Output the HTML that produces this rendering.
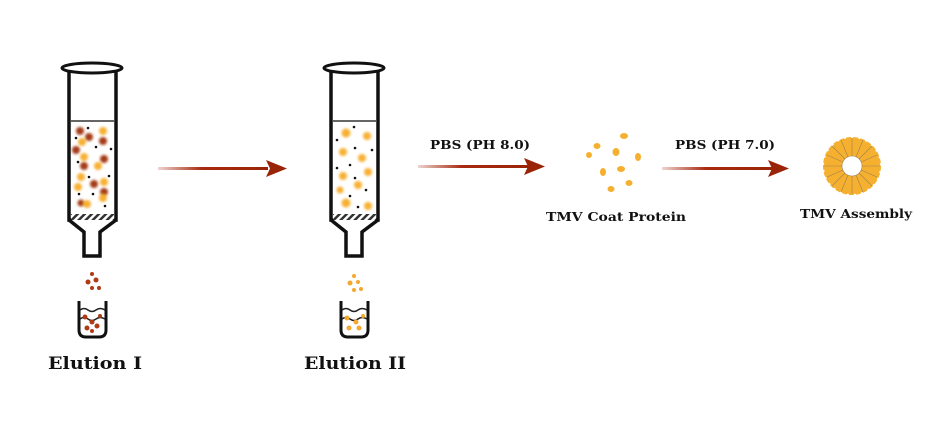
<!DOCTYPE html>
<html><head><style>
body{margin:0;background:#fff}
svg text{font-family:"DejaVu Serif","Liberation Serif",serif;font-weight:bold;fill:#111}
</style></head><body>
<svg width="951" height="435" viewBox="0 0 951 435" xmlns="http://www.w3.org/2000/svg">
<defs>
<linearGradient id="ag" x1="0" x2="1"><stop offset="0" stop-color="#a82a10" stop-opacity="0.2"/><stop offset="0.4" stop-color="#a82a10"/><stop offset="1" stop-color="#9a2408"/></linearGradient>
<pattern id="hat" width="5" height="5" patternUnits="userSpaceOnUse" patternTransform="rotate(45)"><rect width="5" height="5" fill="#fff"/><rect width="2.5" height="5" fill="#333"/></pattern>
<filter id="bl"><feGaussianBlur stdDeviation="1.2"/></filter>
<g id="tube">
<rect x="69" y="70" width="47" height="150" fill="#fff" stroke="#111" stroke-width="3.5"/>
<line x1="71" y1="121" x2="114" y2="121" stroke="#333" stroke-width="1.5"/>
<rect x="71" y="214" width="43" height="6" fill="url(#hat)"/>
<path d="M69 220 L84 232 L84 256 L100 256 L100 232 L116 220" fill="#fff" stroke="#111" stroke-width="3.5"/>
<ellipse cx="92" cy="68" rx="30" ry="5" fill="#fff" stroke="#111" stroke-width="3"/>
<path d="M79 301 L79 330 Q79 337 86 337 L99 337 Q106 337 106 330 L106 301" fill="#fff" stroke="#111" stroke-width="3"/>
<path d="M80 310 q4 -3 8 0 q4 3 8 0 q4 -3 9 0 M80 319 q4 -3 8 0 q4 3 8 0 q4 -3 9 0" fill="none" stroke="#222" stroke-width="1.5"/>
</g>
</defs>
<use href="#tube"/>
<use href="#tube" x="262"/>
<g filter="url(#bl)">
<g fill="#a53a14"><circle cx="80" cy="131" r="4"/><circle cx="89" cy="137" r="4"/><circle cx="103" cy="141" r="4"/><circle cx="76" cy="150" r="4"/><circle cx="104" cy="159" r="4"/><circle cx="84" cy="166" r="4"/><circle cx="94" cy="184" r="4"/><circle cx="104" cy="192" r="4"/><circle cx="81" cy="203" r="3.5"/></g>
<g fill="#f8b030"><circle cx="103" cy="131" r="4"/><circle cx="82" cy="142" r="4"/><circle cx="84" cy="157" r="4"/><circle cx="98" cy="166" r="4"/><circle cx="81" cy="177" r="4"/><circle cx="78" cy="187" r="4"/><circle cx="104" cy="182" r="4"/><circle cx="103" cy="198" r="4"/><circle cx="87" cy="204" r="4"/></g>
<g fill="#f8b030"><circle cx="346" cy="133" r="4.5"/><circle cx="367" cy="136" r="4"/><circle cx="343" cy="152" r="4"/><circle cx="362" cy="158" r="4"/><circle cx="343" cy="176" r="4"/><circle cx="368" cy="172" r="4"/><circle cx="358" cy="185" r="4"/><circle cx="340" cy="190" r="3.5"/><circle cx="346" cy="203" r="4.5"/><circle cx="368" cy="206" r="4"/></g>
</g>
<g fill="#111"><circle cx="88" cy="128" r="1.3"/><circle cx="76" cy="138" r="1.3"/><circle cx="96" cy="147" r="1.3"/><circle cx="111" cy="149" r="1.3"/><circle cx="78" cy="162" r="1.3"/><circle cx="109" cy="176" r="1.3"/><circle cx="89" cy="177" r="1.3"/><circle cx="93" cy="194" r="1.3"/><circle cx="79" cy="194" r="1.3"/><circle cx="105" cy="206" r="1.3"/>
<circle cx="354" cy="127" r="1.3"/><circle cx="337" cy="140" r="1.3"/><circle cx="355" cy="148" r="1.3"/><circle cx="372" cy="150" r="1.3"/><circle cx="350" cy="165" r="1.3"/><circle cx="337" cy="168" r="1.3"/><circle cx="355" cy="178" r="1.3"/><circle cx="366" cy="190" r="1.3"/><circle cx="350" cy="196" r="1.3"/><circle cx="358" cy="207" r="1.3"/></g>
<g fill="#b03a14"><circle cx="92" cy="274" r="2"/><circle cx="88" cy="282" r="2.5"/><circle cx="96" cy="280" r="2.5"/><circle cx="92" cy="288" r="2"/><circle cx="99" cy="288" r="2"/><circle cx="85" cy="317" r="2.5"/><circle cx="92" cy="322" r="2.5"/><circle cx="100" cy="316" r="2"/><circle cx="87" cy="328" r="2.5"/><circle cx="97" cy="326" r="2.5"/><circle cx="92" cy="331" r="2"/></g>
<g fill="#f5a830"><circle cx="354" cy="276" r="2"/><circle cx="350" cy="283" r="2.5"/><circle cx="358" cy="282" r="2"/><circle cx="354" cy="290" r="2"/><circle cx="361" cy="289" r="2"/><circle cx="347" cy="318" r="2.5"/><circle cx="356" cy="322" r="2.5"/><circle cx="363" cy="316" r="2"/><circle cx="349" cy="328" r="2.5"/><circle cx="359" cy="328" r="2.5"/></g>
<g fill="#f5b030"><ellipse cx="624" cy="136" rx="4" ry="3"/><ellipse cx="597" cy="146" rx="3.5" ry="3"/><ellipse cx="589" cy="155" rx="3" ry="3"/><ellipse cx="616" cy="152" rx="3.5" ry="4"/><ellipse cx="638" cy="157" rx="3" ry="4"/><ellipse cx="603" cy="172" rx="3" ry="4"/><ellipse cx="621" cy="169" rx="4" ry="3"/><ellipse cx="629" cy="183" rx="3.5" ry="3"/><ellipse cx="611" cy="189" rx="3.5" ry="3"/></g>
<g>
<circle cx="852" cy="166" r="19" fill="none" stroke="#f5b030" stroke-width="18"/>
<circle cx="852" cy="166" r="28" fill="none" stroke="#f5b030" stroke-width="2" stroke-dasharray="5 2"/>
<g stroke="#a08050" stroke-width="0.6" fill="none">
<circle cx="852" cy="166" r="10"/>
<path d="M852 156 L852 138 M862 166 L880 166 M852 176 L852 194 M842 166 L824 166 M859 159 L872 146 M859 173 L872 186 M845 173 L832 186 M845 159 L832 146 M856 157 L863 140 M861 170 L877 177 M848 175 L841 192 M843 162 L827 155 M861 162 L877 155 M856 175 L863 192 M843 170 L827 177 M848 157 L841 140"/>
</g></g>
<rect x="158" y="167" width="110" height="3" fill="url(#ag)"/><path d="M266 160 L287 168.5 L266 177 L270 168.5Z" fill="#9a2408"/>
<rect x="418" y="165" width="110" height="3" fill="url(#ag)"/><path d="M524 158 L545 166.5 L524 175 L528 166.5Z" fill="#9a2408"/>
<rect x="662" y="167" width="110" height="3" fill="url(#ag)"/><path d="M768 160 L789 168.5 L768 177 L772 168.5Z" fill="#9a2408"/>
<text x="430" y="149" font-size="12" textLength="100" lengthAdjust="spacingAndGlyphs">PBS (PH 8.0)</text>
<text x="675" y="149" font-size="12" textLength="100" lengthAdjust="spacingAndGlyphs">PBS (PH 7.0)</text>
<text x="546" y="221" font-size="12" textLength="140" lengthAdjust="spacingAndGlyphs">TMV Coat Protein</text>
<text x="800" y="218" font-size="12" textLength="112" lengthAdjust="spacingAndGlyphs">TMV Assembly</text>
<text x="48" y="369" font-size="17" textLength="94" lengthAdjust="spacingAndGlyphs">Elution I</text>
<text x="304" y="369" font-size="17" textLength="102" lengthAdjust="spacingAndGlyphs">Elution II</text>
</svg>
</body></html>
